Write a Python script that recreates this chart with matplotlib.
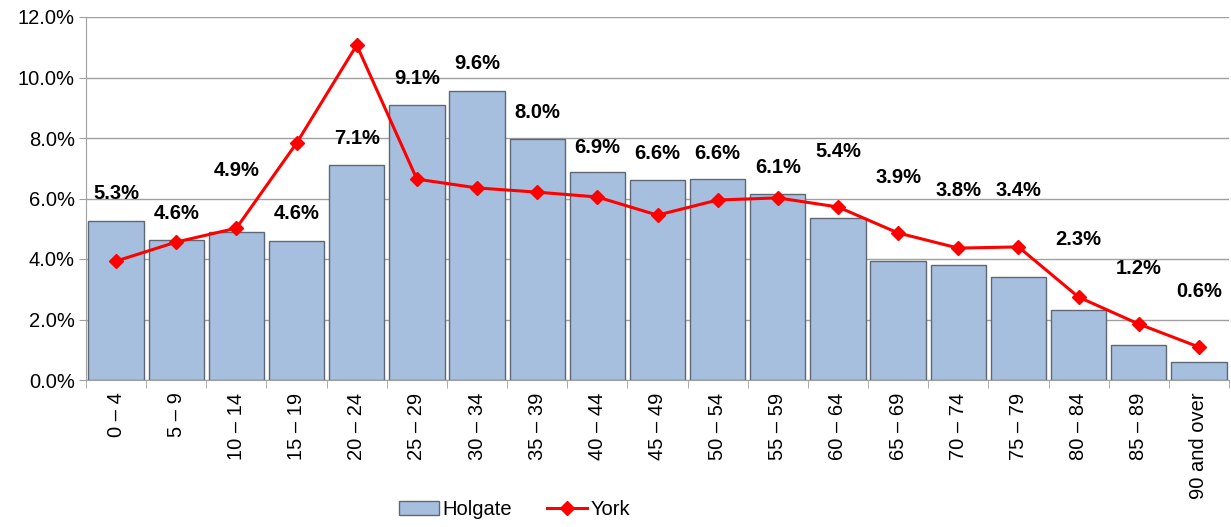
import matplotlib.pyplot as plt
import numpy as np
from matplotlib.ticker import FuncFormatter

plt.rcParams['font.family'] = ['Liberation Sans', 'DejaVu Sans']

ages = ['0 – 4', '5 – 9', '10 – 14', '15 – 19', '20 – 24', '25 – 29', '30 – 34',
        '35 – 39', '40 – 44', '45 – 49', '50 – 54', '55 – 59', '60 – 64', '65 – 69',
        '70 – 74', '75 – 79', '80 – 84', '85 – 89', '90 and over']
holgate = [5.26, 4.63, 4.88, 4.58, 7.12, 9.10, 9.57, 7.97, 6.88, 6.60, 6.63, 6.14,
           5.36, 3.92, 3.80, 3.42, 2.30, 1.16, 0.58]
york = [3.93, 4.56, 5.02, 7.83, 11.07, 6.64, 6.35, 6.21, 6.05, 5.45, 5.95, 6.02,
        5.72, 4.86, 4.36, 4.40, 2.74, 1.85, 1.09]
# where each bar label sits (manually placed in the original)
label_y = [6.18, 5.52, 6.91, 5.52, 8.0, 9.98, 10.45, 8.83, 7.70, 7.50, 7.50, 7.01,
           7.54, 6.68, 6.28, 6.28, 4.63, 3.70, 2.94]

fs = 14.5

fig = plt.figure(figsize=(12.31, 5.27), dpi=100)
ax = fig.add_axes([86 / 1231, 1 - 380 / 527, (1229 - 86) / 1231, (380 - 17) / 527])

x = np.arange(len(ages))
bars = ax.bar(x, holgate, width=0.92, color='#A7BFDE', edgecolor='#5E6773', linewidth=1.0,
              label='Holgate', zorder=2)
line, = ax.plot(x, york, color='#FF0000', linewidth=2.2, marker='D', markersize=7,
                label='York', zorder=3)

for xi, v, ly in zip(x, holgate, label_y):
    ax.text(xi, ly, f'{v:.1f}%', ha='center', va='center', fontsize=fs,
            fontweight='bold', zorder=4)

ax.set_xlim(-0.5, len(ages) - 0.5)
ax.set_ylim(0, 12)
ax.set_yticks(np.arange(0, 12.1, 2))
ax.yaxis.set_major_formatter(FuncFormatter(lambda v, p: f'{v:.1f}%'))
ax.grid(axis='y', color='#A0A0A0', linewidth=1.0, zorder=0)
ax.set_axisbelow(True)

ax.set_xticks(x)
ax.set_xticklabels(ages, rotation=90, fontsize=fs)
ax.tick_params(axis='x', length=0, pad=9)
ax.set_xticks(np.arange(-0.5, len(ages), 1), minor=True)
ax.tick_params(axis='x', which='minor', length=6, color='#A0A0A0')
ax.tick_params(axis='y', length=5, color='#A0A0A0', labelsize=fs, pad=3)

for s in ['top', 'right']:
    ax.spines[s].set_visible(False)
ax.spines['left'].set_color('#A0A0A0')
ax.spines['bottom'].set_color('#A0A0A0')

fig.legend([bars, line], ['Holgate', 'York'], loc='lower center',
           bbox_to_anchor=(0.418, -0.02), ncol=2, frameon=False,
           fontsize=fs, handlelength=2.0, columnspacing=1.7, handletextpad=0.2)

fig.savefig('out.png', dpi=100)
